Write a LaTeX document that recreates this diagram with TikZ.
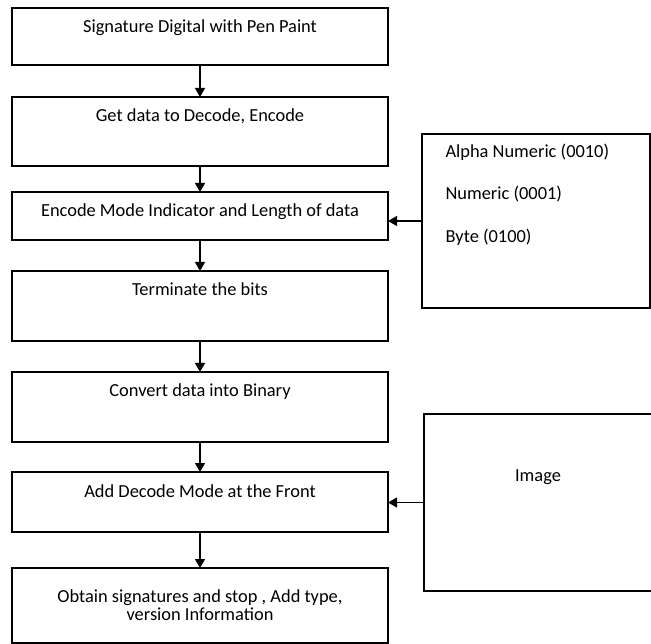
\documentclass[tikz,border=0pt]{standalone}
\usepackage{fontspec}
\setmainfont{Carlito}
\usetikzlibrary{positioning,calc,arrows.meta}
\tikzset{
  stepbox/.style={draw,line width=1.2pt,minimum width=376pt,inner sep=0pt,outer sep=0pt,text height=25pt,text depth=#1},
  sidebox/.style={draw,line width=1.2pt,minimum width=228pt,minimum height=#1,inner sep=0pt,outer sep=0pt},
  flow/.style={line width=1.2pt,-{Triangle[width=10pt,length=9pt]}}
}
\begin{document}
\begin{tikzpicture}[x=1pt,y=-1pt,font=\fontsize{18.4}{18}\selectfont]
    \useasboundingbox (0,0) rectangle (651,644);

    \node[stepbox=32pt,anchor=north] (s1) at (200,8) {Signature Digital with Pen Paint};
    \node[stepbox=44pt,below=32pt of s1] (s2) {Get data to Decode, Encode};
    \node[stepbox=23pt,below=26pt of s2] (s3) {Encode Mode Indicator and Length of data};
    \node[stepbox=45pt,below=31pt of s3] (s4) {Terminate the bits};
    \node[stepbox=45pt,below=31pt of s4] (s5) {Convert data into Binary};
    \node[stepbox=35pt,below=30pt of s5] (s6) {Add Decode Mode at the Front};
    \node[draw,line width=1.2pt,minimum width=376pt,minimum height=75pt,inner sep=0pt,outer sep=0pt,
          align=center,below=36pt of s6] (s7) {Obtain signatures and stop , Add type,\\version Information};

    \node[sidebox=174pt,anchor=north west] (r1) at (422,134) {};
    \node[anchor=base west] (t1) at ($(r1.north west)+(20,24)$) {Alpha Numeric (0010)};
    \node[anchor=base west] (t2) at ($(t1.base west)+(0,42)$) {Numeric (0001)};
    \node[anchor=base west] (t3) at ($(t2.base west)+(0,43)$) {Byte (0100)};

    \node[sidebox=177pt,anchor=north west] (r2) at (424,414) {};
    \node (t4) at ($(r2.north)+(0,63)$) {Image};

    \draw[flow] (s1) -- (s2);
    \draw[flow] (s2) -- (s3);
    \draw[flow] (s3) -- (s4);
    \draw[flow] (s4) -- (s5);
    \draw[flow] (s5) -- (s6);
    \draw[flow] (s6) -- (s7);
    \draw[flow] (r1.west) -- (r1.west -| s3.east);
    \draw[flow] (r2.west) -- (r2.west -| s6.east);
\end{tikzpicture}
\end{document}
